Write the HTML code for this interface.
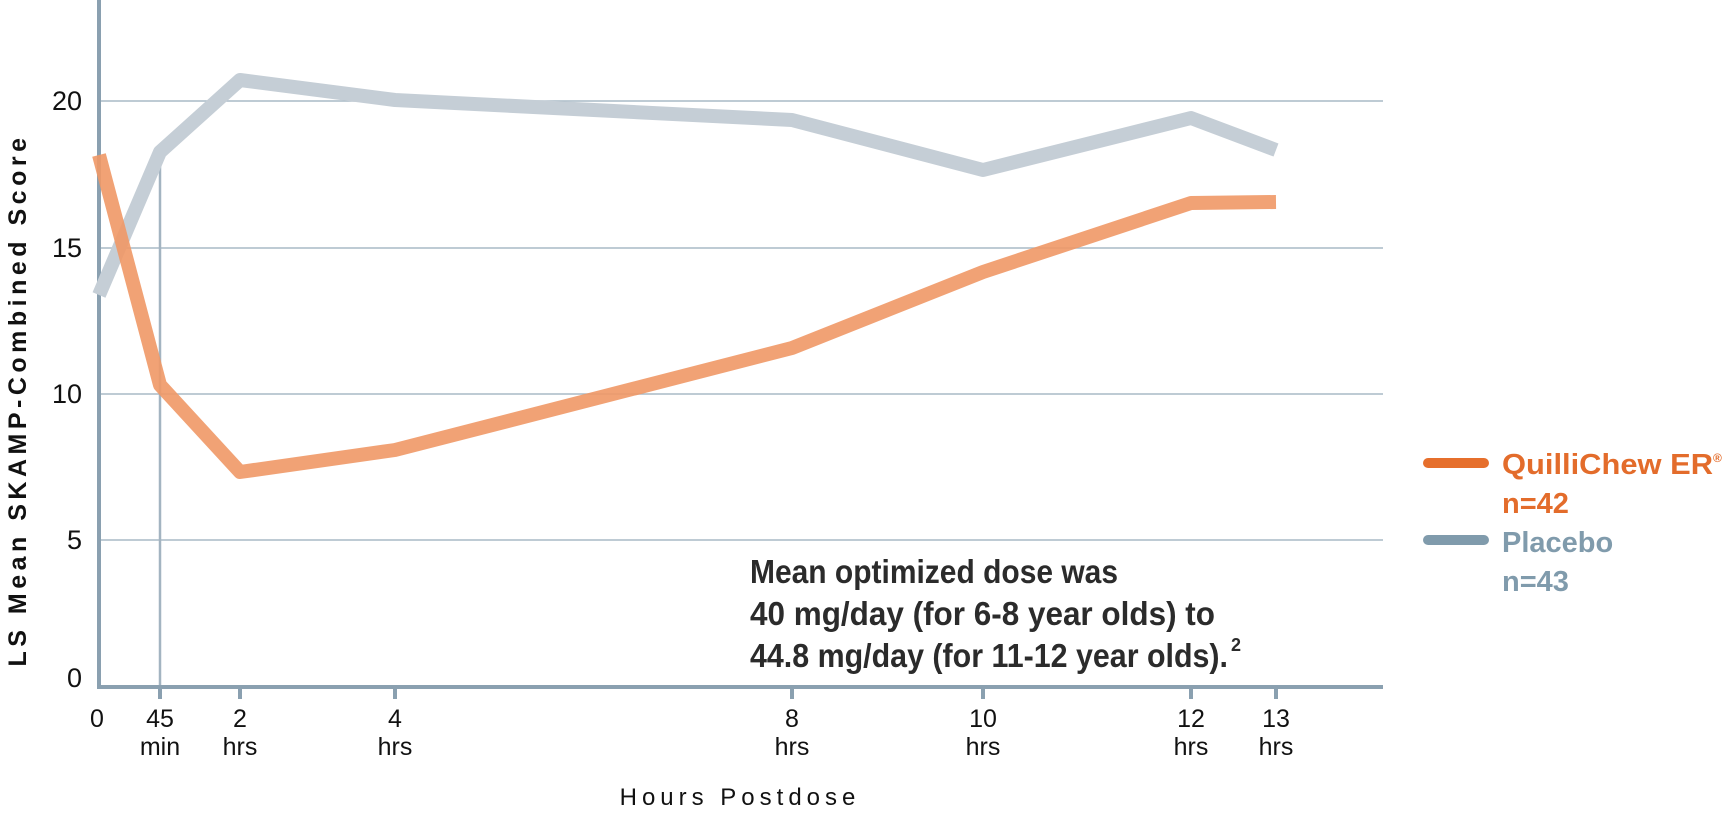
<!DOCTYPE html>
<html><head><style>body{margin:0;background:#fff}</style></head><body>
<svg width="1728" height="815" xmlns="http://www.w3.org/2000/svg" font-family="Liberation Sans, sans-serif">
<g stroke="#a9bac6" stroke-width="1.5">
<line x1="99" y1="101" x2="1383" y2="101"/><line x1="99" y1="248" x2="1383" y2="248"/>
<line x1="99" y1="394" x2="1383" y2="394"/><line x1="99" y1="540" x2="1383" y2="540"/>
</g>
<line x1="160" y1="152" x2="160" y2="687" stroke="#a3b4c1" stroke-width="2.5"/>
<g stroke="#8aa0b0" stroke-width="4">
<line x1="99" y1="0" x2="99" y2="689"/><line x1="97" y1="687" x2="1383" y2="687"/>
<line x1="160" y1="687" x2="160" y2="699"/><line x1="240" y1="687" x2="240" y2="699"/>
<line x1="395" y1="687" x2="395" y2="699"/><line x1="792" y1="687" x2="792" y2="699"/>
<line x1="983" y1="687" x2="983" y2="699"/><line x1="1191" y1="687" x2="1191" y2="699"/>
<line x1="1276" y1="687" x2="1276" y2="699"/>
</g>
<polyline fill="none" stroke="#c5ced6" stroke-width="14" stroke-linejoin="round" points="99,295 160,152 240,80 395,100 792,120 983,170 1191,118 1276,150"/>
<polyline fill="none" stroke="#ef9866" stroke-opacity="0.9" stroke-width="14" stroke-linejoin="round" points="99,155 160,385 240,472 395,450 792,348 983,272 1191,203 1276,202"/>
<g font-size="27" fill="#111" text-anchor="end">
<text x="82" y="110">20</text><text x="82" y="257">15</text><text x="82" y="403">10</text>
<text x="82" y="549">5</text><text x="82" y="687">0</text>
</g>
<g font-size="25" fill="#111" text-anchor="middle">
<text x="97" y="727">0</text>
<text x="160" y="727">45</text><text x="160" y="755">min</text>
<text x="240" y="727">2</text><text x="240" y="755">hrs</text>
<text x="395" y="727">4</text><text x="395" y="755">hrs</text>
<text x="792" y="727">8</text><text x="792" y="755">hrs</text>
<text x="983" y="727">10</text><text x="983" y="755">hrs</text>
<text x="1191" y="727">12</text><text x="1191" y="755">hrs</text>
<text x="1276" y="727">13</text><text x="1276" y="755">hrs</text>
</g>
<text x="740" y="805" text-anchor="middle" font-size="24" letter-spacing="5" fill="#111">Hours Postdose</text>
<text transform="translate(26,400) rotate(-90)" text-anchor="middle" font-size="25" font-weight="bold" letter-spacing="4.5" fill="#111">LS Mean SKAMP-Combined Score</text>
<g font-size="33" font-weight="bold" fill="#2b2b2b">
<text x="750" y="583" textLength="368" lengthAdjust="spacingAndGlyphs">Mean optimized dose was</text>
<text x="750" y="625" textLength="465" lengthAdjust="spacingAndGlyphs">40 mg/day (for 6-8 year olds) to</text>
<text x="750" y="667" textLength="478" lengthAdjust="spacingAndGlyphs">44.8 mg/day (for 11-12 year olds).</text>
<text x="1231" y="651" font-size="18">2</text>
</g>
<line x1="1428" y1="463" x2="1484" y2="463" stroke="#e66f2c" stroke-width="10" stroke-linecap="round"/>
<line x1="1428" y1="540" x2="1484" y2="540" stroke="#809bac" stroke-width="10" stroke-linecap="round"/>
<g font-size="29" font-weight="bold">
<text x="1502" y="474" fill="#e36c2b"><tspan textLength="211" lengthAdjust="spacingAndGlyphs">QuilliChew ER</tspan><tspan font-size="12" dy="-12">®</tspan></text>
<text x="1502" y="513" fill="#e36c2b">n=42</text>
<text x="1502" y="552" fill="#809bac">Placebo</text>
<text x="1502" y="591" fill="#809bac">n=43</text>
</g>
</svg>
</body></html>
